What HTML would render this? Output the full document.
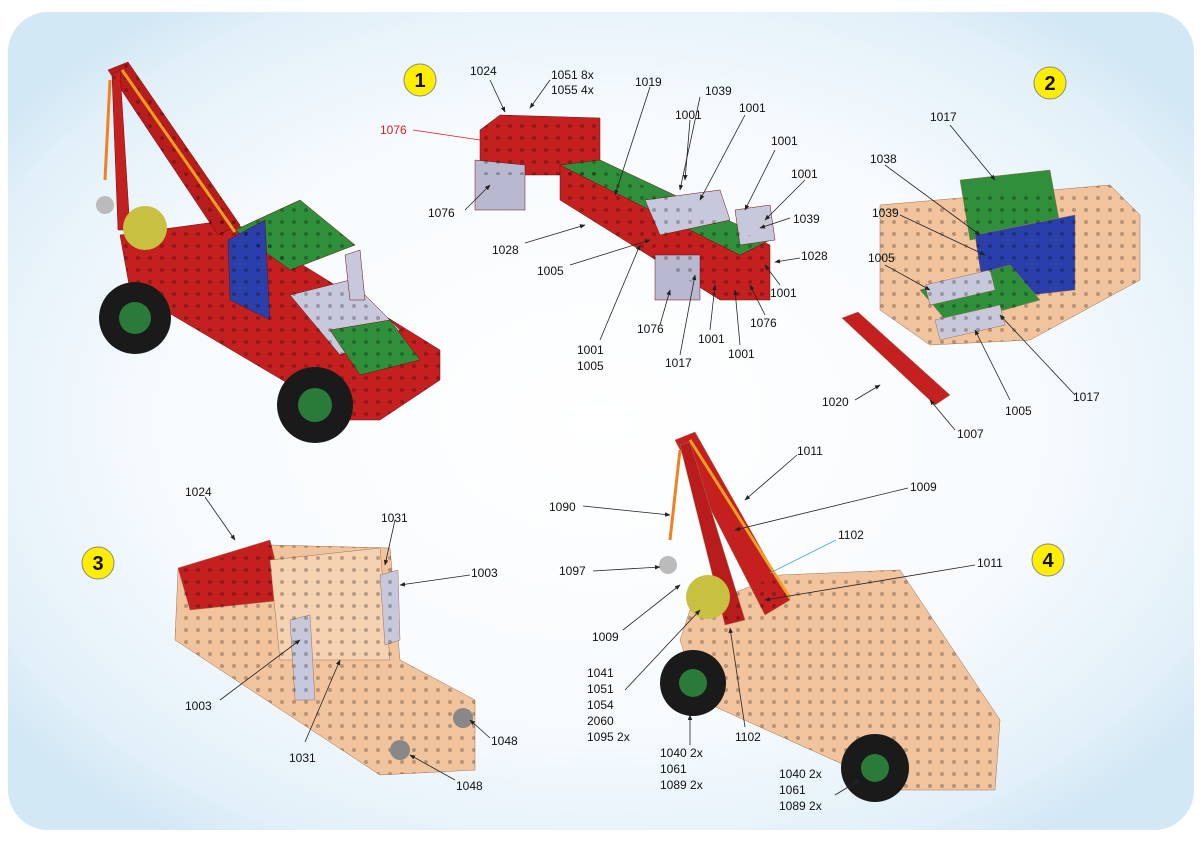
<!DOCTYPE html>
<html><head><meta charset="utf-8"><style>
html,body{margin:0;padding:0;background:#fff}
svg{display:block}
text{font-family:"Liberation Sans",Arial,sans-serif;font-size:12px;fill:#111}
</style></head><body>
<svg width="1200" height="848" viewBox="0 0 1200 848" xmlns="http://www.w3.org/2000/svg">
<defs>
<radialGradient id="bg" cx="50%" cy="50%" r="62%">
<stop offset="0" stop-color="#ffffff"/><stop offset="0.6" stop-color="#f7fbfe"/><stop offset="0.9" stop-color="#e2f0f9"/><stop offset="1" stop-color="#d3e8f5"/>
</radialGradient>
<marker id="ar" viewBox="0 0 10 10" refX="9" refY="5" markerWidth="7" markerHeight="7" orient="auto"><path d="M0,1 L10,5 L0,9 z" fill="#222"/></marker>
<pattern id="holes" width="12" height="12" patternUnits="userSpaceOnUse"><circle cx="6" cy="6" r="2" fill="#000" fill-opacity="0.25"/></pattern>
</defs>
<rect width="1200" height="848" fill="#fff"/>
<rect x="8" y="12" width="1186" height="818" rx="40" fill="url(#bg)"/>

<!-- Model top-left crane -->
<g stroke="#6a1010" stroke-width="0.5">
<polygon points="120,235 230,220 440,350 440,380 380,420 350,420 130,290" fill="#c42020"/>
<polygon points="108,70 128,62 240,225 218,235" fill="#b81c1c"/>
<polygon points="112,75 120,70 130,230 118,230" fill="#c42020"/>
<polygon points="235,230 300,200 355,245 290,270" fill="#2f8f3a"/>
<polygon points="228,240 265,220 270,320 230,300" fill="#2a3faa"/>
<polygon points="290,295 350,280 400,330 340,355" fill="#c8c8dd"/>
<polygon points="330,330 390,320 420,360 360,375" fill="#2f8f3a"/>
<polygon points="345,255 360,250 365,300 350,300" fill="#c8c8dd"/>
</g>
<g fill="url(#holes)">
<polygon points="120,235 230,220 440,350 440,380 380,420 350,420 130,290"/>
<polygon points="108,70 128,62 240,225 218,235"/>
<polygon points="235,230 300,200 355,245 290,270"/>
</g>
<line x1="122" y1="70" x2="235" y2="232" stroke="#f0a020" stroke-width="3"/>
<line x1="110" y1="80" x2="105" y2="180" stroke="#f08020" stroke-width="3"/>
<circle cx="105" cy="205" r="9" fill="#bbb"/>
<circle cx="145" cy="228" r="22" fill="#c8c040"/>
<circle cx="135" cy="318" r="36" fill="#1a1a1a"/><circle cx="135" cy="318" r="16" fill="#2a7a3a"/>
<circle cx="315" cy="405" r="38" fill="#1a1a1a"/><circle cx="315" cy="405" r="17" fill="#2a7a3a"/>

<!-- Model 1 -->
<g stroke="#6a1010" stroke-width="0.5">
<polygon points="480,130 500,115 600,118 600,175 480,175" fill="#c42020"/>
<polygon points="560,165 600,165 770,245 770,300 720,300 560,200" fill="#c42020"/>
<polygon points="560,165 600,160 770,240 740,255" fill="#2f8f3a"/>
<polygon points="475,160 525,165 525,210 475,210" fill="#b8b8d0"/>
<polygon points="655,255 700,255 700,300 655,300" fill="#b8b8d0"/>
<polygon points="645,200 720,190 730,220 660,235" fill="#c8c8dd"/>
<polygon points="735,210 770,205 775,240 740,245" fill="#c8c8dd"/>
</g>
<g fill="url(#holes)">
<polygon points="480,130 500,115 600,118 600,175 480,175"/>
<polygon points="560,165 600,165 770,245 770,300 720,300 560,200"/>
</g>
<circle cx="420" cy="80" r="16" fill="#ffee00" stroke="#888" stroke-width="1"/>
<text x="420" y="87" text-anchor="middle" style="font-size:20px;font-weight:bold">1</text>

<!-- Model 2 -->
<g stroke="#a07050" stroke-width="0.5">
<polygon points="880,205 1110,185 1140,215 1140,280 1030,340 930,345 880,310" fill="#f2c49e"/>
<polygon points="960,180 1050,170 1060,225 970,240" fill="#2f8f3a"/>
<polygon points="975,235 1075,215 1075,290 985,300" fill="#2a3faa"/>
<polygon points="920,290 1010,265 1040,300 950,325" fill="#2f8f3a"/>
<polygon points="925,285 990,270 995,290 930,305" fill="#c8c8dd"/>
<polygon points="935,320 1000,305 1005,325 940,340" fill="#c8c8dd"/>
<polygon points="842,318 858,312 950,395 935,405" fill="#c42020"/>
</g>
<polygon points="880,205 1110,185 1140,215 1140,280 1030,340 930,345 880,310" fill="url(#holes)"/>
<circle cx="1050" cy="83" r="16" fill="#ffee00" stroke="#888"/>
<text x="1050" y="90" text-anchor="middle" style="font-size:20px;font-weight:bold">2</text>

<!-- Model 3 -->
<g stroke="#a07050" stroke-width="0.5">
<polygon points="178,570 270,545 390,548 400,660 475,700 475,770 380,775 175,640" fill="#f2c49e"/>
<polygon points="178,568 270,540 285,600 190,610" fill="#c42020"/>
<polygon points="270,560 380,548 390,660 280,660" fill="#f5d2b2"/>
<polygon points="380,575 398,570 400,640 385,645" fill="#c8c8dd"/>
<polygon points="290,620 310,615 315,700 295,700" fill="#c8c8dd"/>
</g>
<polygon points="178,570 270,545 390,548 400,660 475,700 475,770 380,775 175,640" fill="url(#holes)"/>
<circle cx="463" cy="718" r="10" fill="#888"/><circle cx="400" cy="750" r="10" fill="#888"/>
<circle cx="98" cy="563" r="16" fill="#ffee00" stroke="#888"/>
<text x="98" y="570" text-anchor="middle" style="font-size:20px;font-weight:bold">3</text>

<!-- Model 4 -->
<g stroke="#a07050" stroke-width="0.5">
<polygon points="690,610 780,575 900,570 1000,720 995,790 900,790 700,700 680,640" fill="#f2c49e"/>
<polygon points="675,440 695,432 790,600 765,615" fill="#c42020"/>
<polygon points="680,445 690,442 745,620 725,625" fill="#b81c1c"/>
</g>
<polygon points="690,610 780,575 900,570 1000,720 995,790 900,790 700,700 680,640" fill="url(#holes)"/>
<line x1="690" y1="440" x2="790" y2="598" stroke="#f0a020" stroke-width="3"/>
<line x1="680" y1="450" x2="670" y2="540" stroke="#f08020" stroke-width="3"/>
<circle cx="668" cy="565" r="9" fill="#bbb"/>
<circle cx="708" cy="597" r="22" fill="#c8c040"/>
<circle cx="693" cy="683" r="33" fill="#1a1a1a"/><circle cx="693" cy="683" r="14" fill="#2a7a3a"/>
<circle cx="875" cy="768" r="34" fill="#1a1a1a"/><circle cx="875" cy="768" r="14" fill="#2a7a3a"/>
<circle cx="1048" cy="560" r="16" fill="#ffee00" stroke="#888"/>
<text x="1048" y="567" text-anchor="middle" style="font-size:20px;font-weight:bold">4</text>

<!-- leader lines -->
<g stroke="#222" stroke-width="0.8" fill="none" marker-end="url(#ar)">
<line x1="490" y1="80" x2="505" y2="112"/><line x1="550" y1="80" x2="530" y2="108"/>
<line x1="650" y1="87" x2="615" y2="195"/>
<line x1="700" y1="97" x2="680" y2="190"/><line x1="690" y1="120" x2="685" y2="180"/>
<line x1="745" y1="115" x2="700" y2="200"/><line x1="775" y1="150" x2="745" y2="210"/><line x1="805" y1="180" x2="765" y2="220"/>
<line x1="790" y1="218" x2="760" y2="228"/><line x1="800" y1="258" x2="775" y2="262"/>
<line x1="465" y1="210" x2="490" y2="185"/><line x1="525" y1="243" x2="585" y2="225"/>
<line x1="570" y1="265" x2="650" y2="240"/><line x1="600" y1="340" x2="640" y2="245"/>
<line x1="660" y1="325" x2="670" y2="290"/><line x1="680" y1="355" x2="695" y2="275"/>
<line x1="710" y1="330" x2="715" y2="285"/><line x1="740" y1="345" x2="735" y2="290"/>
<line x1="765" y1="315" x2="750" y2="285"/><line x1="780" y1="285" x2="765" y2="265"/>
<line x1="950" y1="125" x2="995" y2="180"/><line x1="885" y1="165" x2="980" y2="235"/>
<line x1="900" y1="215" x2="985" y2="255"/><line x1="885" y1="265" x2="930" y2="290"/>
<line x1="1010" y1="400" x2="975" y2="330"/><line x1="1075" y1="395" x2="1000" y2="315"/>
<line x1="855" y1="400" x2="880" y2="385"/><line x1="955" y1="430" x2="930" y2="400"/>
<line x1="205" y1="497" x2="235" y2="540"/><line x1="395" y1="520" x2="385" y2="565"/>
<line x1="470" y1="575" x2="400" y2="585"/><line x1="220" y1="700" x2="300" y2="640"/>
<line x1="305" y1="742" x2="340" y2="660"/><line x1="490" y1="738" x2="470" y2="720"/>
<line x1="455" y1="780" x2="410" y2="755"/>
<line x1="583" y1="506" x2="670" y2="515"/><line x1="593" y1="571" x2="660" y2="567"/>
<line x1="797" y1="455" x2="745" y2="500"/><line x1="908" y1="488" x2="735" y2="530"/>
<line x1="623" y1="630" x2="680" y2="585"/><line x1="625" y1="690" x2="700" y2="610"/>
<line x1="745" y1="727" x2="730" y2="628"/><line x1="975" y1="565" x2="765" y2="600"/>
<line x1="690" y1="745" x2="690" y2="715"/><line x1="835" y1="795" x2="860" y2="780"/>
</g>
<line x1="836" y1="540" x2="770" y2="573" stroke="#4aa8cc" stroke-width="0.8"/>
<line x1="413" y1="130" x2="480" y2="140" stroke="#d02020" stroke-width="0.8"/>

<!-- labels -->
<text x="470" y="75">1024</text>
<text x="551" y="79">1051 8x</text><text x="551" y="94">1055 4x</text>
<text x="380" y="134" style="fill:#d02020">1076</text>
<text x="635" y="86">1019</text><text x="705" y="95">1039</text>
<text x="675" y="119">1001</text><text x="739" y="112">1001</text>
<text x="771" y="145">1001</text><text x="791" y="178">1001</text>
<text x="793" y="223">1039</text><text x="801" y="260">1028</text>
<text x="428" y="217">1076</text><text x="492" y="254">1028</text>
<text x="537" y="275">1005</text>
<text x="577" y="354">1001</text><text x="577" y="370">1005</text>
<text x="637" y="333">1076</text><text x="665" y="367">1017</text>
<text x="698" y="343">1001</text><text x="728" y="358">1001</text>
<text x="750" y="327">1076</text><text x="770" y="297">1001</text>
<text x="930" y="121">1017</text><text x="870" y="163">1038</text>
<text x="872" y="217">1039</text><text x="868" y="262">1005</text>
<text x="822" y="406">1020</text><text x="957" y="438">1007</text>
<text x="1005" y="415">1005</text><text x="1073" y="401">1017</text>
<text x="185" y="496">1024</text><text x="381" y="522">1031</text>
<text x="471" y="577">1003</text><text x="185" y="710">1003</text>
<text x="289" y="762">1031</text><text x="491" y="745">1048</text>
<text x="456" y="790">1048</text>
<text x="797" y="455">1011</text><text x="910" y="491">1009</text>
<text x="838" y="539">1102</text><text x="977" y="567">1011</text>
<text x="549" y="511">1090</text><text x="559" y="575">1097</text>
<text x="592" y="641">1009</text>
<text x="587" y="677">1041</text><text x="587" y="693">1051</text><text x="587" y="709">1054</text><text x="587" y="725">2060</text><text x="587" y="741">1095 2x</text>
<text x="735" y="741">1102</text>
<text x="660" y="757">1040 2x</text><text x="660" y="773">1061</text><text x="660" y="789">1089 2x</text>
<text x="779" y="778">1040 2x</text><text x="779" y="794">1061</text><text x="779" y="810">1089 2x</text>
</svg>
</body></html>
